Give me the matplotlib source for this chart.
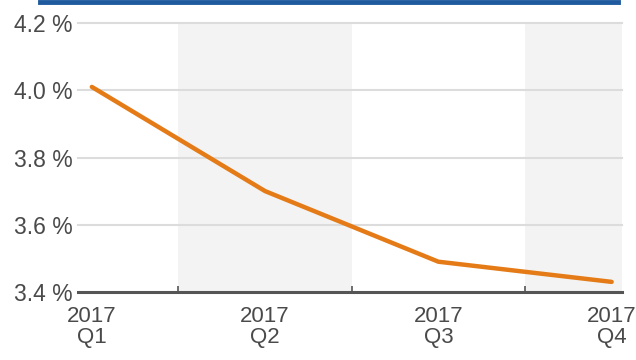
import matplotlib.pyplot as plt
from matplotlib.lines import Line2D

plt.rcParams["font.family"] = ["Liberation Sans", "DejaVu Sans"]

# Quarterly rate, 2017
quarters = ["2017\nQ1", "2017\nQ2", "2017\nQ3", "2017\nQ4"]
rates = [4.01, 3.70, 3.49, 3.43]
y_ticks = [3.4, 3.6, 3.8, 4.0, 4.2]

fig = plt.figure(figsize=(6.36, 3.6), dpi=100)
ax = fig.add_axes([0.1226, 0.189, 0.8554, 0.747])

x = list(range(len(quarters)))

# alternating background bands
for i in x:
    if i % 2 == 1:
        ax.axvspan(i - 0.5, i + 0.5, color="#f3f3f3", zorder=0, lw=0)

for v in y_ticks[1:]:
    ax.axhline(v, color="#dcdcdc", lw=1.5, zorder=1, clip_on=False)

ax.plot(x, rates, color="#e47b17", lw=3.2, solid_capstyle="round",
        solid_joinstyle="round", zorder=3)

ax.set_xlim(-0.08, 3.06)
ax.set_ylim(3.4, 4.2)
ax.set_yticks(y_ticks)
ax.set_yticklabels([f"{v:.1f} %" for v in y_ticks])
ax.set_xticks(x)
ax.set_xticklabels(quarters)
ax.set_xticks([0.5, 1.5, 2.5], minor=True)

for s in ["top", "right", "left"]:
    ax.spines[s].set_visible(False)
ax.spines["bottom"].set_color("#555555")
ax.spines["bottom"].set_linewidth(2.2)
ax.spines["bottom"].set_zorder(4)

ax.tick_params(axis="y", length=0, pad=4, labelsize=16.5, labelcolor="#4a4a4a")
ax.tick_params(axis="x", which="major", length=0, pad=10, labelsize=16,
               labelcolor="#4a4a4a")
ax.tick_params(axis="x", which="minor", length=4, direction="in",
               color="#555555", width=1.2)
for lbl in ax.get_xticklabels():
    lbl.set_linespacing(1.0)

# blue rule along the top edge
fig.add_artist(Line2D([40 / 636, 618 / 636], [0.995, 0.995],
                      color="#1f5a9e", lw=3.5, transform=fig.transFigure))

fig.savefig("out.png", dpi=100)
